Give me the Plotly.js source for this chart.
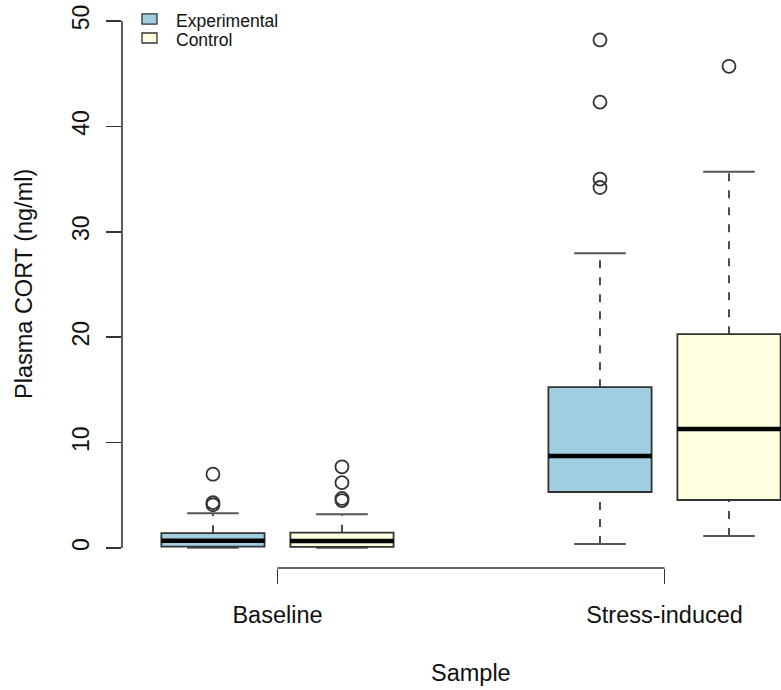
<!DOCTYPE html>
<html>
<head>
<meta charset="utf-8">
<script src="https://cdn.plot.ly/plotly-3.0.1.min.js"></script>
<style>
  html, body { margin: 0; padding: 0; background: #ffffff; }
  #chart { width: 781px; height: 690px; }
</style>
</head>
<body>
<div id="chart"></div>
<script>
// Plasma corticosterone by sample and group
const samples = ["Baseline", "Stress-induced"];
const groups = ["Experimental", "Control"];
const groupColors = ["#9fcfe0", "#ffffe0"];

// Box positions along the x axis (groups side by side within each sample)
const boxPos = [1, 2, 4, 5];
const boxGroup = [0, 1, 0, 1];

// Five-number summaries (ng/ml), in the order of boxPos
const lowerWhisker = [0.02, 0.02, 0.38, 1.14];
const q1 = [0.12, 0.10, 5.31, 4.55];
const median = [0.68, 0.65, 8.72, 11.28];
const q3 = [1.40, 1.45, 15.26, 20.28];
const upperWhisker = [3.30, 3.20, 27.96, 35.70];

// Outlying values beyond the whiskers
const outliers = [
  [4.1, 4.3, 7.0],
  [4.5, 4.7, 6.2, 7.7],
  [34.2, 35.0, 42.3, 48.2],
  [45.7]
];

const yTicks = [0, 10, 20, 30, 40, 50];
const sampleTickPos = [1.5, 4.5];

const boxWidth = 0.8;
const capWidth = 0.4;
const FONT = "Liberation Sans, Arial, Helvetica, sans-serif";

const shapes = [];
boxPos.forEach((p, i) => {
  // dashed whiskers
  shapes.push({type: "line", xref: "x", yref: "y", x0: p, x1: p, y0: q3[i], y1: upperWhisker[i],
    line: {color: "#222", width: 1.6, dash: "8px,9px"}});
  shapes.push({type: "line", xref: "x", yref: "y", x0: p, x1: p, y0: lowerWhisker[i], y1: q1[i],
    line: {color: "#222", width: 1.6, dash: "8px,9px"}});
  // whisker caps
  shapes.push({type: "line", xref: "x", yref: "y", x0: p - capWidth / 2, x1: p + capWidth / 2,
    y0: upperWhisker[i], y1: upperWhisker[i], line: {color: "#555", width: 2}});
  shapes.push({type: "line", xref: "x", yref: "y", x0: p - capWidth / 2, x1: p + capWidth / 2,
    y0: lowerWhisker[i], y1: lowerWhisker[i], line: {color: "#555", width: 2}});
  // box body
  shapes.push({type: "rect", xref: "x", yref: "y", x0: p - boxWidth / 2, x1: p + boxWidth / 2,
    y0: q1[i], y1: q3[i], fillcolor: groupColors[boxGroup[i]], line: {color: "#333", width: 1.8}});
  // median
  shapes.push({type: "line", xref: "x", yref: "y", x0: p - boxWidth / 2, x1: p + boxWidth / 2,
    y0: median[i], y1: median[i], line: {color: "#000", width: 4.5}});
});

// y axis line spanning the tick range
shapes.push({type: "line", xref: "paper", yref: "y", x0: 0, x1: 0,
  y0: yTicks[0], y1: yTicks[yTicks.length - 1], line: {color: "#333", width: 1.6}});
// x axis line spanning the two sample ticks
shapes.push({type: "line", xref: "x", yref: "paper", x0: sampleTickPos[0], x1: sampleTickPos[1],
  y0: 0, y1: 0, line: {color: "#333", width: 1.6}});

// legend keys
const legendKeyY = [[0.9577, 0.9754], [0.9243, 0.9419]];
const legendTextY = [0.9639, 0.9287];
const annotations = [];
groups.forEach((g, k) => {
  shapes.push({type: "rect", xref: "paper", yref: "paper", x0: 0.0303, x1: 0.0531,
    y0: legendKeyY[k][0], y1: legendKeyY[k][1], fillcolor: groupColors[k], line: {color: "#333", width: 1.3}});
  annotations.push({xref: "paper", yref: "paper", x: 0.0795, y: legendTextY[k], xanchor: "left", yanchor: "middle",
    text: g, showarrow: false, font: {family: FONT, size: 17.5, color: "#111"}});
});

// axis titles; "Sample" is centred on the full plotting region
annotations.push({xref: "x", yref: "paper", x: 3.0, y: -0.185, xanchor: "center", yanchor: "middle",
  text: "Sample", showarrow: false, font: {family: FONT, size: 23.5, color: "#111"}});
annotations.push({xref: "paper", yref: "paper", x: -0.1487, y: 0.5, xanchor: "center", yanchor: "middle",
  textangle: -90, text: "Plasma CORT (ng/ml)", showarrow: false, font: {family: FONT, size: 23.5, color: "#111"}});

const traces = boxPos.map((p, i) => ({
  type: "scatter", mode: "markers",
  x: outliers[i].map(() => p), y: outliers[i],
  marker: {symbol: "circle-open", size: 13, color: "#333", line: {width: 1.8, color: "#333"}},
  showlegend: false, hoverinfo: "y", cliponaxis: true
}));

const layout = {
  width: 781, height: 690,
  margin: {l: 122, r: 0, t: 0, b: 122, pad: 0},
  paper_bgcolor: "#ffffff", plot_bgcolor: "#ffffff",
  showlegend: false,
  font: {family: FONT, color: "#111"},
  xaxis: {
    range: [0.295, 5.403], showgrid: false, zeroline: false, showline: false,
    tickmode: "array", tickvals: sampleTickPos, ticktext: samples,
    ticks: "outside", ticklen: 15, tickwidth: 1.6, tickcolor: "#333",
    tickfont: {family: FONT, size: 23.5, color: "#111"}, ticklabelstandoff: 11
  },
  yaxis: {
    range: [-1.90, 51.99], showgrid: false, zeroline: false, showline: false,
    tickmode: "array", tickvals: yTicks, ticktext: yTicks.map(String),
    ticks: "outside", ticklen: 15, tickwidth: 1.6, tickcolor: "#333", tickangle: -90,
    tickfont: {family: FONT, size: 23, color: "#111"}, ticklabelstandoff: 8
  },
  shapes: shapes,
  annotations: annotations
};

Plotly.newPlot("chart", traces, layout, {displayModeBar: false, staticPlot: true});
</script>
</body>
</html>
